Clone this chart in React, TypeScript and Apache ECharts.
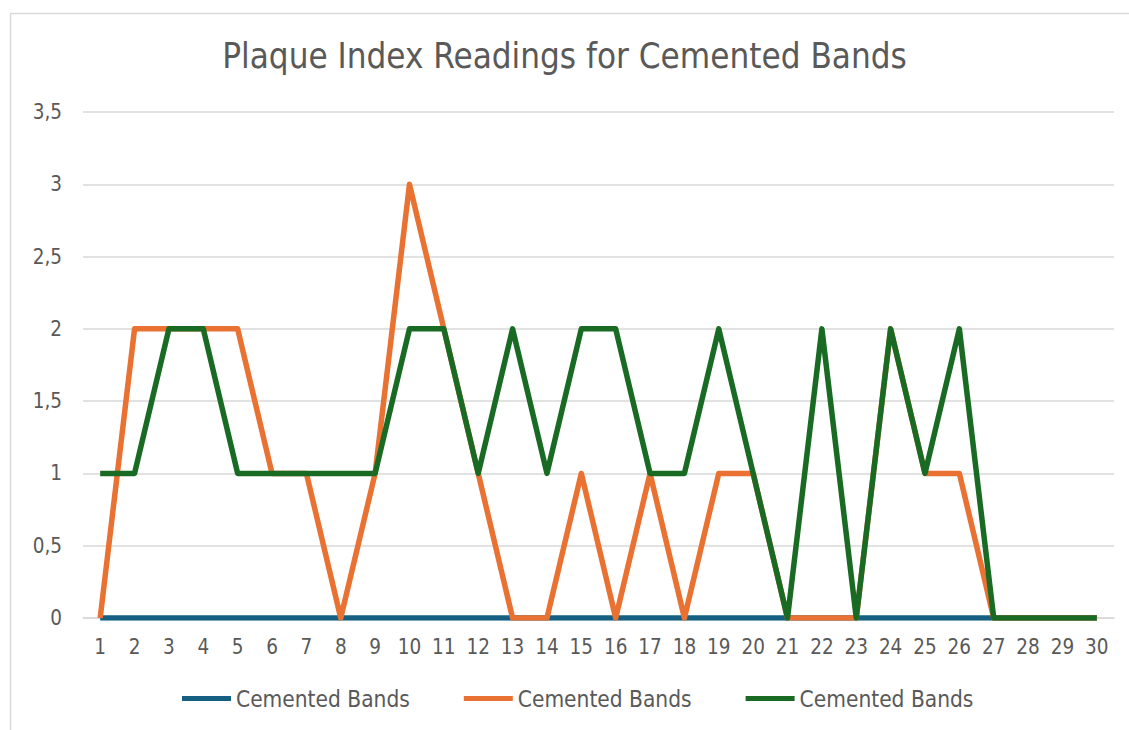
import React, { useEffect, useRef } from "react";
import * as echarts from "echarts";

const categories = Array.from({ length: 30 }, (_, i) => String(i + 1));
const seriesNames = ["Cemented Bands", "Cemented Bands", "Cemented Bands"];
const blueValues = [0, 0, 0, 0, 0, 0, 0, 0, 0, 0, 0, 0, 0, 0, 0, 0, 0, 0, 0, 0, 0, 0, 0, 0, 0, 0, 0, 0, 0, 0];
const orangeValues = [0, 2, 2, 2, 2, 1, 1, 0, 1, 3, 2, 1, 0, 0, 1, 0, 1, 0, 1, 1, 0, 0, 0, 2, 1, 1, 0, 0, 0, 0];
const greenValues = [1, 1, 2, 2, 1, 1, 1, 1, 1, 2, 2, 1, 2, 1, 2, 2, 1, 1, 2, 1, 0, 2, 0, 2, 1, 2, 0, 0, 0, 0];
const colors = ["#156082", "#E97132", "#196B24"];
const FONT = "'DejaVu Sans Condensed', 'DejaVu Sans', sans-serif";

export default function App() {
  const ref = useRef<HTMLDivElement>(null);
  useEffect(() => {
    if (!ref.current) return;
    const chart = echarts.init(ref.current, null, { renderer: "svg" });
    const values = [blueValues, orangeValues, greenValues];
    chart.setOption({
      animation: false,
      backgroundColor: "#ffffff",
      textStyle: { fontFamily: FONT },
      title: {
        text: "Plaque Index Readings for Cemented Bands",
        left: "center",
        top: 33,
        textStyle: { fontFamily: FONT, fontSize: 34.7, fontWeight: "normal", color: "#595959" },
      },
      graphic: [
        {
          type: "rect",
          shape: { x: 10.5, y: 13.5, width: 1200, height: 800 },
          style: { fill: "none", stroke: "#d9d9d9", lineWidth: 1.5 },
          silent: true,
          z: -10,
        },
      ],
      grid: { left: 83, right: 15, top: 112, bottom: 112, containLabel: false },
      legend: {
        bottom: 15,
        left: 177,
        icon: "rect",
        itemWidth: 49,
        itemHeight: 5,
        itemGap: 54,
        textStyle: { fontFamily: FONT, fontSize: 22.5, color: "#595959" },
        data: seriesNames.map((n, i) => ({ name: n + "\u200b".repeat(i) })),
        formatter: (n: string) => n.replace(/\u200b/g, ""),
      },
      xAxis: {
        type: "category",
        data: categories,
        boundaryGap: true,
        axisLine: { show: true, lineStyle: { color: "#d9d9d9", width: 1.5 } },
        axisTick: { show: false },
        axisLabel: { fontFamily: FONT, fontSize: 20.5, color: "#595959", margin: 18, interval: 0 },
      },
      yAxis: {
        type: "value",
        min: 0,
        max: 3.5,
        interval: 0.5,
        axisLine: { show: false },
        axisTick: { show: false },
        splitLine: { lineStyle: { color: "#d9d9d9", width: 1.5 } },
        axisLabel: {
          fontFamily: FONT,
          fontSize: 20.5,
          color: "#595959",
          margin: 21,
          formatter: (v: number) => String(v).replace(".", ","),
        },
      },
      series: values.map((d, i) => ({
        name: seriesNames[i] + "\u200b".repeat(i),
        type: "line",
        data: d,
        symbol: "none",
        color: colors[i],
        lineStyle: { color: colors[i], width: 5.5, join: "round", cap: "butt" },
        z: 2 + i,
      })),
    });
    return () => chart.dispose();
  }, []);
  return <div ref={ref} style={{ position: "fixed", left: 0, top: 0, width: 1129, height: 730 }} />;
}
